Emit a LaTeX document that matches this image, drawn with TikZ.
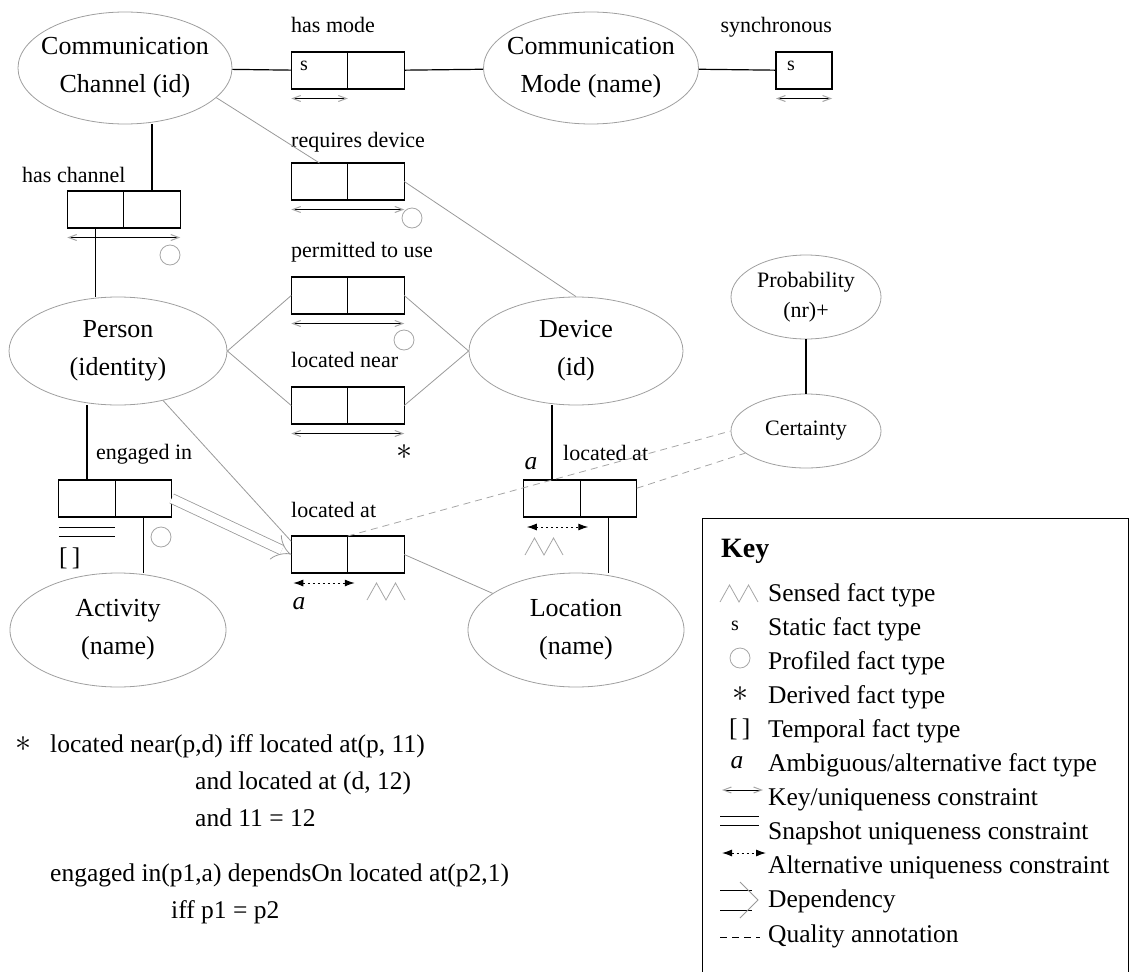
\documentclass[tikz,border=0pt]{standalone}
\usepackage{fontspec}
\setmainfont{Liberation Serif}
\usetikzlibrary{shapes.geometric,positioning,arrows.meta}

\newcommand{\entfont}{\fontsize{26}{38}\selectfont}
\newcommand{\qualfont}{\fontsize{22}{30}\selectfont}
\newcommand{\factfont}{\fontsize{22}{26}\selectfont}
\newcommand{\keyfont}{\fontsize{25.5}{30}\selectfont}

\tikzset{
  entity/.style={ellipse, draw=gray!75, line width=0.8pt, inner sep=0pt,
    label={[align=center, font=\entfont]center:#1}},
  qualent/.style={ellipse, draw=gray!75, line width=0.8pt, inner sep=0pt,
    label={[align=center, font=\qualfont]center:#1}},
  cell/.style={draw, line width=1.2pt, minimum width=56.5pt, minimum height=37pt,
    inner sep=0pt, outer sep=0pt},
  role/.style={line width=1.2pt},
  link/.style={draw=gray!80, line width=0.8pt},
  quality/.style={draw=gray!70, line width=0.8pt, dash pattern=on 7pt off 5pt},
  fact/.style={font=\factfont, anchor=base west, inner sep=0pt},
  sign/.style={inner sep=0pt},
  uniq/.style={line width=1pt, >={Straight Barb[length=8pt, width=6pt, color=gray!70]}, <->},
  altuniq/.style={line width=1pt, dash pattern=on 2pt off 3pt, >={Latex[length=10pt, width=7pt]}, <->},
  profiled/.style={draw=gray!70, line width=0.8pt},
  sensed/.style={draw=gray!70, line width=0.8pt},
  dep/.style={draw=gray!80, double, double distance=9pt, line width=0.8pt, -{Implies}},
  keytext/.style={font=\keyfont, anchor=base west, inner sep=0pt}
}

\begin{document}
\begin{tikzpicture}[x=1pt, y=-1pt]
  \useasboundingbox (0,0) rectangle (1131,971);

  % object types
  \node[entity={Communication\\Channel (id)}, minimum width=214pt, minimum height=112pt] (cc) at (125,68) {};
  \node[entity={Communication\\Mode (name)}, minimum width=215pt, minimum height=112pt] (cm) at (591,68) {};
  \node[entity={Person\\(identity)}, minimum width=218pt, minimum height=108pt] (per) at (118,351) {};
  \node[entity={Device\\(id)}, minimum width=214pt, minimum height=108pt] (dev) at (576,351) {};
  \node[entity={Activity\\(name)}, minimum width=216pt, minimum height=114pt] (act) at (118,630) {};
  \node[entity={Location\\(name)}, minimum width=216pt, minimum height=114pt] (loc) at (576,630) {};
  \node[qualent={Probability\\(nr)+}, minimum width=150pt, minimum height=84pt] (prob) at (806,297) {};
  \node[qualent={Certainty}, minimum width=150pt, minimum height=74pt] (cert) at (806,431) {};

  % fact types, two roles each
  \foreach \f/\x/\y in {hm/319.5/70.5, rd/319.5/181.5, hc/95.5/209.5, pu/319.5/295.5,
                        ln/319.5/405.5, ei/87/498.5, la/319.5/554.5, lb/552/498.5}{
    \node[cell] (\f-l) at (\x,\y) {};
    \node[cell, right=0pt of \f-l] (\f-r) {};
  }
  \node[cell, minimum width=56pt] (sy) at (804,70.5) {};

  % fact type names
  \node[fact] (hm-name) at (291,33) {has mode};
  \node[fact, anchor=base east] (sy-name) at (832,33) {synchronous};
  \node[fact] (rd-name) at (291,147) {requires device};
  \node[fact] (hc-name) at (22,182) {has channel};
  \node[fact] (pu-name) at (291,257) {permitted to use};
  \node[fact] (ln-name) at (291,367) {located near};
  \node[fact] (ei-name) at (96,459) {engaged in};
  \node[fact] (la-name) at (291,517) {located at};
  \node[fact] (lb-name) at (563,460) {located at};

  % roles
  \draw[role] (cc) -- (hm-l);
  \draw[role] (hm-r) -- (cm);
  \draw[role] (cm) -- (sy);
  \draw[role] (hc-r.north) -- (hc-r.north |- cc.south);
  \draw[role] (hc-l.south) -- (hc-l.south |- per.north);
  \draw[role] (ei-l.north) -- (ei-l.north |- per.south);
  \draw[role] (ei-r.south) -- (ei-r.south |- act.north);
  \draw[role] (lb-l.north) -- (lb-l.north |- dev.south);
  \draw[role] (lb-r.south) -- (lb-r.south |- loc.north);
  \draw[role] (prob) -- (cert);
  \draw[link] (cc.-18) -- (rd-l.north);
  \draw[link] (rd-r.east) -- (dev.north);
  \draw[link] (per.east) -- (pu-l.west);
  \draw[link] (per.east) -- (ln-l.west);
  \draw[link] (dev.west) -- (pu-r.east);
  \draw[link] (dev.west) -- (ln-r.east);
  \draw[link] (per) -- (la-l.155);
  \draw[link] (la-r.east) -- (loc);

  % quality annotations and dependency
  \draw[quality] (la-l.north east) -- (cert.west);
  \draw[quality] (lb-r.20) -- (cert.200);
  \draw[dep] (ei-r.east) -- (la-l.west);

  % constraints
  \foreach \a/\b in {hm-l/hm-l, sy/sy, rd-l/rd-r, hc-l/hc-r, pu-l/pu-r, ln-l/ln-r}
    \draw[uniq] ([yshift=-9.5pt]\a.south west) -- ([yshift=-9.5pt]\b.south east);
  \draw[altuniq] ([xshift=2pt, yshift=-10pt]la-l.south west) -- ([xshift=7pt, yshift=-10pt]la-l.south east);
  \draw[altuniq] ([xshift=3pt, yshift=-10pt]lb-l.south west) -- ([xshift=8pt, yshift=-10pt]lb-l.south east);
  \draw[line width=1pt] ([yshift=-10pt]ei-l.south west) -- ([yshift=-10pt]ei-l.south east)
                        ([yshift=-19pt]ei-l.south west) -- ([yshift=-19pt]ei-l.south east);

  % profiled and sensed marks
  \foreach \x/\y in {412/218, 170/255, 404/340, 161/537, 740/658}
    \draw[profiled] (\x,\y) circle (10pt);
  \foreach \x/\y in {367/600, 525/555, 720/602}
    \draw[sensed] (\x,\y) -- ++(9.5,-17) -- ++(9.5,17) -- ++(9.5,-17) -- ++(9.5,17);
  \node[sign, font=\fontsize{20}{20}\selectfont, anchor=base west] (hm-s) at (300,71) {s};
  \node[sign, font=\fontsize{20}{20}\selectfont, anchor=base west] (sy-s) at (787,71) {s};
  \node[sign, scale=3.2] (ln-star) at (404,452) {$\ast$};
  \node[sign, font=\keyfont, anchor=base west] (ei-temp) at (59,565) {[\,]};
  \node[sign, font=\keyfont\itshape] (la-a) at (299,604) {a};
  \node[sign, font=\keyfont\itshape] (lb-a) at (531,464) {a};

  % key
  \draw[line width=1pt] (702,975) |- (1128,518) -- (1128,975);
  \node[font=\fontsize{28}{30}\selectfont\bfseries, anchor=base west, inner sep=0pt] (key-title) at (721,557) {Key};
  \node[sign, font=\fontsize{20}{20}\selectfont, anchor=base west] (key-s) at (731,630) {s};
  \node[sign, scale=3.2] (key-star) at (740,694) {$\ast$};
  \node[sign, font=\keyfont, anchor=base west] (key-temp) at (729,736) {[\,]};
  \node[sign, font=\keyfont\itshape] (key-a) at (737,763) {a};
  \draw[uniq] (722,790) -- (763,790);
  \draw[line width=1pt] (720,816) -- (759,816) (720,825) -- (759,825);
  \draw[altuniq] (722,853) -- (766,853);
  \draw[line width=0.9pt] (720,890) -- (752,890) (720,910) -- (752,910);
  \draw[link] (740,882) -- (758,900) -- (740,918);
  \draw[line width=0.9pt, dash pattern=on 7pt off 5pt] (720,937) -- (760,937);
  \foreach \t [count=\i] in {Sensed fact type, Static fact type, Profiled fact type,
      Derived fact type, Temporal fact type, Ambiguous/alternative fact type,
      Key/uniqueness constraint, Snapshot uniqueness constraint,
      Alternative uniqueness constraint, Dependency, Quality annotation}
    \node[keytext] (key\i) at (768, {601+34.1*(\i-1)}) {\t};

  % derivation rules
  \node[sign, scale=3.2] (rule-star) at (24,744) {$\ast$};
  \node[keytext] (rule1) at (50,752) {located near(p,d) iff located at(p, 11)};
  \node[keytext] (rule2) at (195,789) {and located at (d, 12)};
  \node[keytext] (rule3) at (195,826) {and 11 = 12};
  \node[keytext] (rule4) at (50,881) {engaged in(p1,a) dependsOn located at(p2,1)};
  \node[keytext] (rule5) at (171,918) {iff p1 = p2};
\end{tikzpicture}
\end{document}
